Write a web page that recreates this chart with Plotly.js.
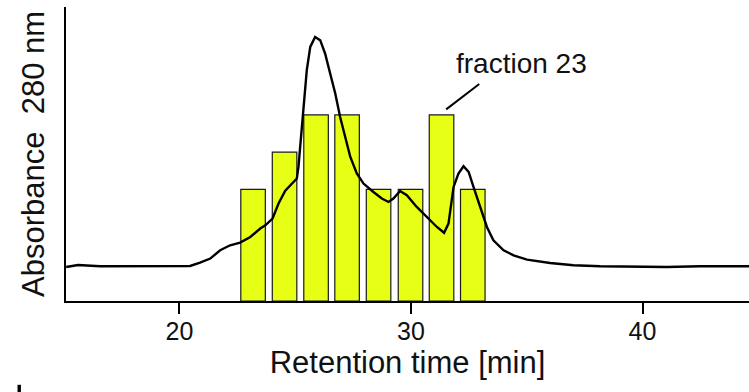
<!DOCTYPE html>
<html>
<head>
<meta charset="utf-8">
<script src="https://cdn.plot.ly/plotly-3.0.1.min.js"></script>
<style>html,body{margin:0;padding:0;background:#fff;}#chart{width:749px;height:392px;}</style>
</head>
<body>
<div id="chart"></div>
<script>
// Chromatogram trace (retention time in min, absorbance in arbitrary units)
var curveTime = [15.11,15.62,16.57,18.74,20.46,20.89,21.33,21.76,22.19,22.62,23.06,23.49,23.71,24.02,24.28,24.57,24.86,25.07,25.14,25.21,25.29,25.43,25.50,25.65,25.86,26.08,26.29,26.51,26.73,26.94,27.16,27.38,27.66,27.95,28.38,28.74,29.03,29.24,29.53,29.82,30.25,30.69,31.12,31.43,31.62,31.84,32.05,32.27,32.49,32.70,32.99,33.28,33.56,34.00,34.43,35.01,36.01,37.02,38.17,39.61,41.05,42.49,44.61];
var curveAbs = [0.914,0.968,0.933,0.933,0.941,1.032,1.140,1.363,1.497,1.570,1.720,1.946,2.035,2.215,2.618,2.965,3.164,3.290,3.602,4.140,4.589,5.753,6.202,6.828,7.097,7.008,6.651,6.113,5.575,4.946,4.409,3.871,3.425,3.156,2.930,2.753,2.661,2.753,2.957,2.841,2.527,2.258,1.989,1.833,2.081,3.065,3.425,3.621,3.468,3.065,2.527,1.989,1.632,1.363,1.228,1.113,1.022,0.960,0.933,0.914,0.914,0.933,0.933];

// Fractions (bar centres in min) and their relative activity
var fractionTime = [23.18,24.54,25.90,27.24,28.60,29.98,31.32,32.67];
var fractionValue = [3,4,5,5,3,3,5,3];
var fractionLabels = ['17','18','19','20','21','22','23','24'];
var fractionWidth = 1.06;

var xTicks = [20,30,40];
var xTickLabels = ['20','30','40'];

var labelFraction = 'fraction 23';

var font = 'Liberation Sans, Arial, Helvetica, sans-serif';

var traces = [
  {
    type: 'bar',
    x: fractionTime,
    y: fractionValue,
    width: fractionWidth,
    text: fractionLabels,
    textposition: 'none',
    marker: {color: '#e6ff14', line: {color: '#1a1a1a', width: 1.2}},
    showlegend: false
  },
  {
    type: 'scatter',
    mode: 'lines',
    x: curveTime,
    y: curveAbs,
    line: {color: '#000', width: 2.4},
    showlegend: false
  }
];

var layout = {
  width: 749,
  height: 392,
  margin: {l: 66, r: 0, t: 7, b: 91},
  paper_bgcolor: '#fff',
  plot_bgcolor: '#fff',
  font: {family: font, color: '#000'},
  xaxis: {
    range: [15.1, 44.6],
    tickvals: xTicks,
    ticktext: xTickLabels,
    ticks: 'outside',
    ticklen: 11,
    tickwidth: 2,
    tickcolor: '#000',
    ticklabelstandoff: -4,
    showline: true,
    linewidth: 2,
    linecolor: '#000',
    showgrid: false,
    zeroline: false,
    tickfont: {size: 25, family: font, color: '#111'},
    title: {text: 'Retention time [min]', font: {size: 31, family: font, color: '#111'}, standoff: 3}
  },
  yaxis: {
    range: [0, 7.9],
    showline: true,
    linewidth: 2,
    linecolor: '#000',
    showticklabels: false,
    ticks: '',
    showgrid: false,
    zeroline: false,
    title: {text: 'Absorbance&nbsp;&nbsp;280 nm', font: {size: 31, family: font, color: '#111'}, standoff: 10}
  },
  bargap: 0,
  shapes: [
    {type: 'line', xref: 'x', yref: 'y', x0: 31.52, y0: 5.15, x1: 32.95, y1: 5.83, line: {color: '#000', width: 2}},
    {type: 'rect', xref: 'paper', yref: 'paper', x0: -0.071, x1: -0.066, y0: -0.31, y1: -0.285, fillcolor: '#000', line: {width: 0}}
  ],
  annotations: [
    {x: 34.76, y: 6.39, xref: 'x', yref: 'y', text: labelFraction, showarrow: false,
     font: {size: 28, family: font, color: '#111'}}
  ]
};

Plotly.newPlot('chart', traces, layout, {displayModeBar: false, staticPlot: true});
</script>
</body>
</html>
